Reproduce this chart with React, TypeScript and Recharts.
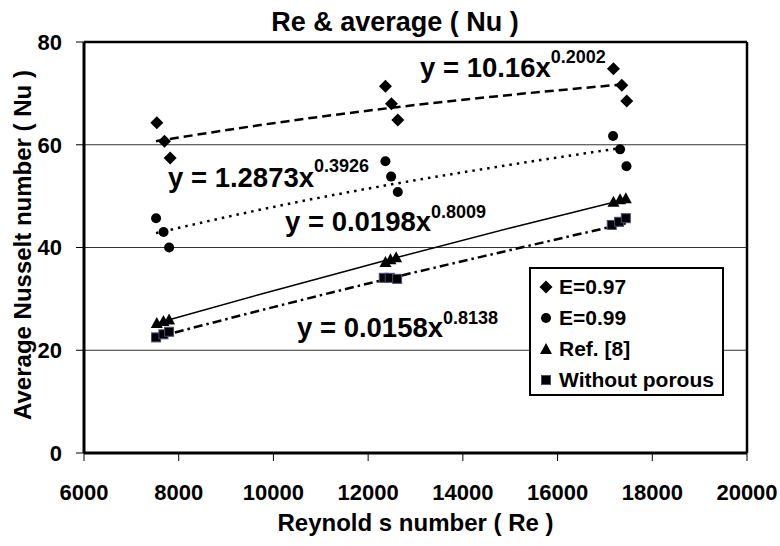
import * as React from 'react';
import {
    ComposedChart,
    CartesianGrid,
    XAxis,
    YAxis,
    Scatter,
    Line,
    ReferenceLine,
    Label
} from 'recharts';

const e097X = [7537, 7698, 7819, 12365, 12492, 12626, 17180, 17356, 17461];
const e097Y = [64.3, 60.7, 57.4, 71.4, 68.0, 64.8, 74.8, 71.6, 68.5];

const e099X = [7522, 7680, 7797, 12365, 12485, 12626, 17172, 17320, 17455];
const e099Y = [45.7, 43.0, 40.0, 56.8, 53.8, 50.8, 61.7, 59.1, 55.8];

const ref8X = [7537, 7677, 7797, 12365, 12471, 12591, 17180, 17320, 17441];
const ref8Y = [25.3, 25.7, 26.0, 37.2, 37.7, 38.1, 48.9, 49.4, 49.6];

const noPorX = [7522, 7677, 7797, 12330, 12456, 12612, 17144, 17299, 17441];
const noPorY = [22.5, 23.1, 23.6, 34.1, 34.1, 33.9, 44.4, 45.0, 45.7];

// power trend lines, sampled from the figure
const trendX = [7520, 10000, 12500, 15000, 17440];
const trend097 = [60.7, 64.2, 67.2, 69.7, 71.8];
const trend099 = [42.8, 47.9, 52.3, 56.1, 59.5];
const trendRef8 = [25.2, 31.6, 37.8, 43.8, 49.4];
const trendNoPor = [22.5, 28.4, 34.1, 39.5, 44.7];

const xTicks = [6000, 8000, 10000, 12000, 14000, 16000, 18000, 20000];
const yTicks = [0, 20, 40, 60, 80];

const legendNames = ['E=0.97', 'E=0.99', 'Ref. [8]', 'Without porous'];

const toPts = (xs: number[], ys: number[]) => xs.map((x, i) => ({ x, y: ys[i] }));

const font = '"Liberation Sans", Arial, sans-serif';

const Diamond = (props: any) => {
    const { cx, cy } = props;
    const r = 6.5;
    return <path d={`M${cx},${cy - r}L${cx + r},${cy}L${cx},${cy + r}L${cx - r},${cy}Z`} fill="#000" />;
};
const Dot = (props: any) => <circle cx={props.cx} cy={props.cy} r={5} fill="#000" />;
const Tri = (props: any) => {
    const { cx, cy } = props;
    return <path d={`M${cx},${cy - 6}L${cx + 6},${cy + 5}L${cx - 6},${cy + 5}Z`} fill="#000" />;
};
const Sq = (props: any) => (
    <rect x={props.cx - 4.5} y={props.cy - 4.5} width={9} height={9} fill="#000" stroke="#4a4a78" strokeWidth={1} />
);

const markers = [Diamond, Dot, Tri, Sq];

const YTitle = () => {
    const cx = 22;
    const cy = 245;
    return (
        <text x={cx} y={cy} transform={`rotate(-90 ${cx} ${cy})`} textAnchor="middle" dominantBaseline="central"
            fontFamily={font} fontWeight="bold" fontSize={24} fill="#000">
            Average Nusselt number ( Nu )
        </text>
    );
};

const Eq = ({ x, y, main, sup, up }: any) => (
    <text x={x} y={y} fontFamily={font} fontWeight="bold" fontSize={27.5} fill="#000">
        {main}
        <tspan fontSize={18} dy={-(up || 14)}>{sup}</tspan>
    </text>
);

export default function App() {
    const tickStyle = { fontFamily: font, fontWeight: 'bold', fontSize: 22, fill: '#000' };
    return (
        <div style={{ position: 'absolute', left: 0, top: 0, width: 780, height: 546, background: '#fff' }}>
            <ComposedChart width={780} height={546} margin={{ top: 42, right: 33, bottom: 13, left: 24 }}>
                <CartesianGrid horizontal={true} vertical={false} stroke="#333" strokeWidth={1} />
                <XAxis type="number" dataKey="x" domain={[6000, 20000]} ticks={xTicks} allowDataOverflow
                    height={80} tickSize={8} tickMargin={23} tick={tickStyle}
                    axisLine={{ stroke: '#000', strokeWidth: 3 }} tickLine={{ stroke: '#000' }}>
                    <Label value="Reynold s number ( Re )" position="insideBottom" offset={2}
                        style={{ fontFamily: font, fontWeight: 'bold', fontSize: 24, fill: '#000' }} />
                </XAxis>
                <YAxis type="number" dataKey="y" domain={[0, 80]} ticks={yTicks} width={60}
                    tickSize={8} tickMargin={14} tick={tickStyle}
                    axisLine={{ stroke: '#000', strokeWidth: 3 }} tickLine={{ stroke: '#000' }}>
                    <Label content={<YTitle />} />
                </YAxis>
                <ReferenceLine y={80} stroke="#000" strokeWidth={2.5} />
                <ReferenceLine x={20000} stroke="#000" strokeWidth={2.5} />

                <Line data={toPts(trendX, trend097)} dataKey="y" type="monotone" stroke="#000" strokeWidth={2.5}
                    strokeDasharray="9 5" dot={false} isAnimationActive={false} />
                <Line data={toPts(trendX, trend099)} dataKey="y" type="monotone" stroke="#000" strokeWidth={2.5}
                    strokeDasharray="2.5 5" dot={false} isAnimationActive={false} />
                <Line data={toPts(trendX, trendRef8)} dataKey="y" type="monotone" stroke="#000" strokeWidth={1.5}
                    dot={false} isAnimationActive={false} />
                <Line data={toPts(trendX, trendNoPor)} dataKey="y" type="monotone" stroke="#000" strokeWidth={2.5}
                    strokeDasharray="9 4 2.5 4" dot={false} isAnimationActive={false} />

                <Scatter data={toPts(e097X, e097Y)} shape={<Diamond />} isAnimationActive={false} />
                <Scatter data={toPts(e099X, e099Y)} shape={<Dot />} isAnimationActive={false} />
                <Scatter data={toPts(ref8X, ref8Y)} shape={<Tri />} isAnimationActive={false} />
                <Scatter data={toPts(noPorX, noPorY)} shape={<Sq />} isAnimationActive={false} />
            </ComposedChart>

            <svg width={780} height={546} style={{ position: 'absolute', left: 0, top: 0, pointerEvents: 'none' }}>
                <text x={395} y={31} textAnchor="middle" fontFamily={font} fontWeight="bold" fontSize={27} fill="#000">
                    Re &amp; average ( Nu )
                </text>
                <Eq x={420} y={77} main="y = 10.16x" sup="0.2002" up={14} />
                <Eq x={168} y={187} main="y = 1.2873x" sup="0.3926" up={15} />
                <Eq x={285} y={231} main="y = 0.0198x" sup="0.8009" up={13} />
                <Eq x={297} y={337} main="y = 0.0158x" sup="0.8138" up={13} />
            </svg>

            <div style={{
                position: 'absolute', left: 529, top: 267, width: 191, height: 125,
                border: '2px solid #000', background: '#fff', fontFamily: font, fontWeight: 'bold',
                fontSize: 21, color: '#000', boxSizing: 'content-box'
            }}>
                {legendNames.map((name, i) => {
                    const M = markers[i];
                    return (
                        <div key={name} style={{ position: 'absolute', left: 8, top: 5 + i * 31, height: 26, display: 'flex', alignItems: 'center' }}>
                            <svg width={14} height={14} style={{ marginRight: 6 }}>
                                <M cx={7} cy={7} />
                            </svg>
                            <span style={{ whiteSpace: 'nowrap' }}>{name}</span>
                        </div>
                    );
                })}
            </div>
        </div>
    );
}
